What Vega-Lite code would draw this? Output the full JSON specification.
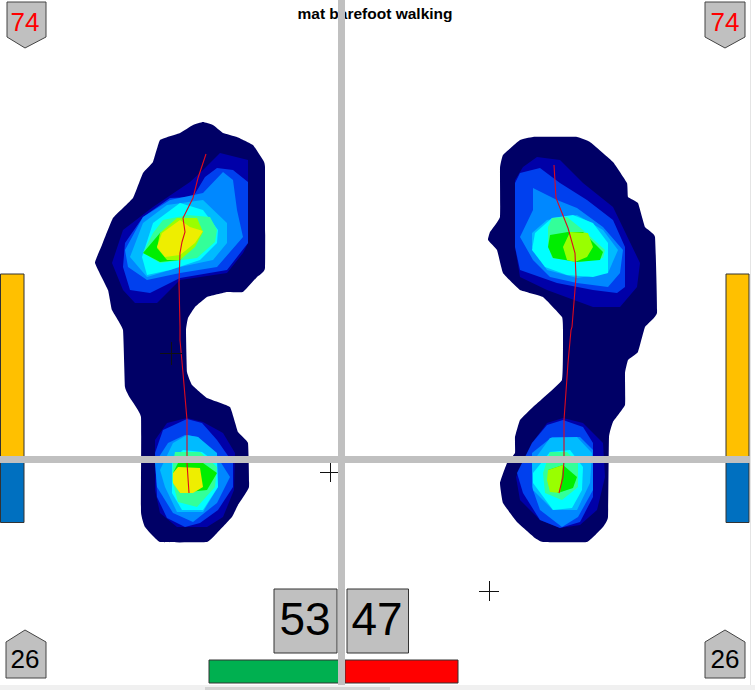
{"$schema":"https://vega.github.io/schema/vega-lite/v6.json","width":755,"height":690,"padding":0,"autosize":{"type":"fit","contains":"padding"},"background":"white","view":{"stroke":null},
"datasets":{
"strips":[{"k":"scroll","x":0,"x2":755,"y":685,"y2":690},{"k":"scroll2","x":205,"x2":390,"y":687,"y2":690},{"k":"edge","x":750,"x2":751,"y":0,"y2":685}],
"outline":[
{"s":"a0","b":"0","x":203,"y":122},{"s":"a0","b":"0","x":213,"y":125},{"s":"a0","b":"0","x":223,"y":133},{"s":"a0","b":"0","x":237,"y":137},{"s":"a0","b":"0","x":253,"y":145},{"s":"a0","b":"0","x":263,"y":160},{"s":"a0","b":"0","x":265,"y":167},{"s":"a0","b":"0","x":265,"y":268},{"s":"a0","b":"0","x":257,"y":277},{"s":"a0","b":"0","x":243,"y":292},{"s":"a0","b":"0","x":227,"y":292},{"s":"a0","b":"0","x":207,"y":297},{"s":"a0","b":"0","x":195,"y":307},{"s":"a0","b":"0","x":188,"y":318},{"s":"a0","b":"0","x":186,"y":330},{"s":"a0","b":"0","x":187,"y":372},{"s":"a0","b":"0","x":192,"y":385},{"s":"a0","b":"0","x":207,"y":398},{"s":"a0","b":"0","x":230,"y":407},{"s":"a0","b":"0","x":238,"y":432},{"s":"a0","b":"0","x":248,"y":443},{"s":"a0","b":"0","x":249,"y":487},{"s":"a0","b":"0","x":238,"y":505},{"s":"a0","b":"0","x":232,"y":517},{"s":"a0","b":"0","x":217,"y":533},{"s":"a0","b":"0","x":207,"y":542},{"s":"a0","b":"0","x":160,"y":542},{"s":"a0","b":"0","x":145,"y":527},{"s":"a0","b":"0","x":141,"y":512},{"s":"a0","b":"0","x":141,"y":417},{"s":"a0","b":"0","x":130,"y":398},{"s":"a0","b":"0","x":125,"y":387},{"s":"a0","b":"0","x":123,"y":330},{"s":"a0","b":"0","x":112,"y":310},{"s":"a0","b":"0","x":108,"y":290},{"s":"a0","b":"0","x":95,"y":263},{"s":"a0","b":"0","x":102,"y":245},{"s":"a0","b":"0","x":113,"y":218},{"s":"a0","b":"0","x":133,"y":198},{"s":"a0","b":"0","x":143,"y":173},{"s":"a0","b":"0","x":153,"y":162},{"s":"a0","b":"0","x":160,"y":140},{"s":"a0","b":"0","x":180,"y":133},{"s":"a0","b":"0","x":193,"y":125},
{"s":"b0","b":"0","x":533,"y":137},{"s":"b0","b":"0","x":577,"y":137},{"s":"b0","b":"0","x":590,"y":142},{"s":"b0","b":"0","x":613,"y":162},{"s":"b0","b":"0","x":627,"y":183},{"s":"b0","b":"0","x":628,"y":197},{"s":"b0","b":"0","x":638,"y":203},{"s":"b0","b":"0","x":645,"y":227},{"s":"b0","b":"0","x":655,"y":237},{"s":"b0","b":"0","x":657,"y":313},{"s":"b0","b":"0","x":645,"y":327},{"s":"b0","b":"0","x":638,"y":352},{"s":"b0","b":"0","x":628,"y":360},{"s":"b0","b":"0","x":625,"y":373},{"s":"b0","b":"0","x":625,"y":405},{"s":"b0","b":"0","x":613,"y":422},{"s":"b0","b":"0","x":609,"y":437},{"s":"b0","b":"0","x":608,"y":517},{"s":"b0","b":"0","x":603,"y":527},{"s":"b0","b":"0","x":587,"y":542},{"s":"b0","b":"0","x":543,"y":542},{"s":"b0","b":"0","x":535,"y":538},{"s":"b0","b":"0","x":517,"y":522},{"s":"b0","b":"0","x":503,"y":503},{"s":"b0","b":"0","x":500,"y":483},{"s":"b0","b":"0","x":507,"y":463},{"s":"b0","b":"0","x":515,"y":453},{"s":"b0","b":"0","x":515,"y":437},{"s":"b0","b":"0","x":520,"y":420},{"s":"b0","b":"0","x":533,"y":407},{"s":"b0","b":"0","x":562,"y":380},{"s":"b0","b":"0","x":563,"y":330},{"s":"b0","b":"0","x":562,"y":317},{"s":"b0","b":"0","x":543,"y":297},{"s":"b0","b":"0","x":520,"y":290},{"s":"b0","b":"0","x":503,"y":273},{"s":"b0","b":"0","x":497,"y":250},{"s":"b0","b":"0","x":488,"y":240},{"s":"b0","b":"0","x":490,"y":232},{"s":"b0","b":"0","x":500,"y":217},{"s":"b0","b":"0","x":500,"y":168},{"s":"b0","b":"0","x":503,"y":155},{"s":"b0","b":"0","x":520,"y":140}
],
"feet":[
{"s":"a1","b":"1","x":220,"y":153},{"s":"a1","b":"1","x":248,"y":160},{"s":"a1","b":"1","x":248,"y":243},{"s":"a1","b":"1","x":243,"y":253},{"s":"a1","b":"1","x":227,"y":273},{"s":"a1","b":"1","x":180,"y":280},{"s":"a1","b":"1","x":157,"y":303},{"s":"a1","b":"1","x":135,"y":303},{"s":"a1","b":"1","x":123,"y":290},{"s":"a1","b":"1","x":112,"y":263},{"s":"a1","b":"1","x":123,"y":230},{"s":"a1","b":"1","x":153,"y":207},{"s":"a1","b":"1","x":190,"y":182},{"s":"a1","b":"1","x":203,"y":170},
{"s":"c1","b":"1","x":187,"y":418},{"s":"c1","b":"1","x":203,"y":422},{"s":"c1","b":"1","x":223,"y":433},{"s":"c1","b":"1","x":235,"y":453},{"s":"c1","b":"1","x":234,"y":490},{"s":"c1","b":"1","x":223,"y":517},{"s":"c1","b":"1","x":207,"y":527},{"s":"c1","b":"1","x":177,"y":527},{"s":"c1","b":"1","x":160,"y":513},{"s":"c1","b":"1","x":155,"y":490},{"s":"c1","b":"1","x":155,"y":440},{"s":"c1","b":"1","x":167,"y":423},
{"s":"b1","b":"1","x":537,"y":157},{"s":"b1","b":"1","x":560,"y":160},{"s":"b1","b":"1","x":583,"y":183},{"s":"b1","b":"1","x":613,"y":207},{"s":"b1","b":"1","x":640,"y":263},{"s":"b1","b":"1","x":637,"y":287},{"s":"b1","b":"1","x":620,"y":307},{"s":"b1","b":"1","x":593,"y":307},{"s":"b1","b":"1","x":547,"y":290},{"s":"b1","b":"1","x":520,"y":277},{"s":"b1","b":"1","x":515,"y":247},{"s":"b1","b":"1","x":515,"y":180},{"s":"b1","b":"1","x":523,"y":167},
{"s":"d1","b":"1","x":563,"y":418},{"s":"d1","b":"1","x":583,"y":423},{"s":"d1","b":"1","x":603,"y":443},{"s":"d1","b":"1","x":605,"y":477},{"s":"d1","b":"1","x":597,"y":510},{"s":"d1","b":"1","x":580,"y":525},{"s":"d1","b":"1","x":560,"y":528},{"s":"d1","b":"1","x":540,"y":520},{"s":"d1","b":"1","x":520,"y":500},{"s":"d1","b":"1","x":516,"y":477},{"s":"d1","b":"1","x":532,"y":443},{"s":"d1","b":"1","x":547,"y":423},
{"s":"a2","b":"2","x":217,"y":168},{"s":"a2","b":"2","x":233,"y":170},{"s":"a2","b":"2","x":248,"y":182},{"s":"a2","b":"2","x":248,"y":243},{"s":"a2","b":"2","x":227,"y":270},{"s":"a2","b":"2","x":180,"y":278},{"s":"a2","b":"2","x":150,"y":293},{"s":"a2","b":"2","x":130,"y":290},{"s":"a2","b":"2","x":123,"y":267},{"s":"a2","b":"2","x":125,"y":243},{"s":"a2","b":"2","x":143,"y":217},{"s":"a2","b":"2","x":170,"y":198},{"s":"a2","b":"2","x":193,"y":197},{"s":"a2","b":"2","x":205,"y":177},
{"s":"c2","b":"2","x":187,"y":419},{"s":"c2","b":"2","x":202,"y":423},{"s":"c2","b":"2","x":217,"y":440},{"s":"c2","b":"2","x":233,"y":463},{"s":"c2","b":"2","x":233,"y":487},{"s":"c2","b":"2","x":218,"y":510},{"s":"c2","b":"2","x":200,"y":523},{"s":"c2","b":"2","x":185,"y":527},{"s":"c2","b":"2","x":167,"y":518},{"s":"c2","b":"2","x":157,"y":497},{"s":"c2","b":"2","x":155,"y":453},{"s":"c2","b":"2","x":163,"y":430},
{"s":"b2","b":"2","x":520,"y":173},{"s":"b2","b":"2","x":540,"y":168},{"s":"b2","b":"2","x":560,"y":183},{"s":"b2","b":"2","x":587,"y":200},{"s":"b2","b":"2","x":613,"y":220},{"s":"b2","b":"2","x":625,"y":247},{"s":"b2","b":"2","x":625,"y":287},{"s":"b2","b":"2","x":617,"y":293},{"s":"b2","b":"2","x":593,"y":290},{"s":"b2","b":"2","x":557,"y":283},{"s":"b2","b":"2","x":520,"y":270},{"s":"b2","b":"2","x":515,"y":247},{"s":"b2","b":"2","x":515,"y":183},
{"s":"d2","b":"2","x":563,"y":420},{"s":"d2","b":"2","x":583,"y":427},{"s":"d2","b":"2","x":593,"y":443},{"s":"d2","b":"2","x":593,"y":497},{"s":"d2","b":"2","x":580,"y":522},{"s":"d2","b":"2","x":560,"y":528},{"s":"d2","b":"2","x":540,"y":520},{"s":"d2","b":"2","x":523,"y":493},{"s":"d2","b":"2","x":517,"y":473},{"s":"d2","b":"2","x":532,"y":443},{"s":"d2","b":"2","x":547,"y":425},
{"s":"a3","b":"3","x":223,"y":172},{"s":"a3","b":"3","x":233,"y":180},{"s":"a3","b":"3","x":237,"y":210},{"s":"a3","b":"3","x":243,"y":237},{"s":"a3","b":"3","x":217,"y":267},{"s":"a3","b":"3","x":180,"y":273},{"s":"a3","b":"3","x":147,"y":280},{"s":"a3","b":"3","x":128,"y":267},{"s":"a3","b":"3","x":125,"y":250},{"s":"a3","b":"3","x":143,"y":217},{"s":"a3","b":"3","x":170,"y":200},{"s":"a3","b":"3","x":203,"y":193},
{"s":"c3","b":"3","x":185,"y":435},{"s":"c3","b":"3","x":198,"y":437},{"s":"c3","b":"3","x":218,"y":458},{"s":"c3","b":"3","x":230,"y":477},{"s":"c3","b":"3","x":217,"y":503},{"s":"c3","b":"3","x":193,"y":522},{"s":"c3","b":"3","x":173,"y":513},{"s":"c3","b":"3","x":157,"y":487},{"s":"c3","b":"3","x":155,"y":463},{"s":"c3","b":"3","x":168,"y":443},
{"s":"b3","b":"3","x":533,"y":188},{"s":"b3","b":"3","x":557,"y":200},{"s":"b3","b":"3","x":577,"y":208},{"s":"b3","b":"3","x":603,"y":227},{"s":"b3","b":"3","x":623,"y":250},{"s":"b3","b":"3","x":620,"y":273},{"s":"b3","b":"3","x":608,"y":287},{"s":"b3","b":"3","x":577,"y":283},{"s":"b3","b":"3","x":550,"y":277},{"s":"b3","b":"3","x":533,"y":260},{"s":"b3","b":"3","x":520,"y":237},{"s":"b3","b":"3","x":533,"y":210},
{"s":"d3","b":"3","x":552,"y":437},{"s":"d3","b":"3","x":580,"y":437},{"s":"d3","b":"3","x":593,"y":450},{"s":"d3","b":"3","x":593,"y":490},{"s":"d3","b":"3","x":578,"y":517},{"s":"d3","b":"3","x":562,"y":527},{"s":"d3","b":"3","x":540,"y":510},{"s":"d3","b":"3","x":532,"y":487},{"s":"d3","b":"3","x":532,"y":453},
{"s":"a4","b":"4","x":203,"y":200},{"s":"a4","b":"4","x":227,"y":223},{"s":"a4","b":"4","x":227,"y":243},{"s":"a4","b":"4","x":213,"y":260},{"s":"a4","b":"4","x":180,"y":267},{"s":"a4","b":"4","x":147,"y":277},{"s":"a4","b":"4","x":130,"y":257},{"s":"a4","b":"4","x":143,"y":223},{"s":"a4","b":"4","x":167,"y":205},
{"s":"c4","b":"4","x":187,"y":435},{"s":"c4","b":"4","x":198,"y":437},{"s":"c4","b":"4","x":217,"y":453},{"s":"c4","b":"4","x":218,"y":487},{"s":"c4","b":"4","x":203,"y":512},{"s":"c4","b":"4","x":177,"y":512},{"s":"c4","b":"4","x":165,"y":487},{"s":"c4","b":"4","x":160,"y":470},{"s":"c4","b":"4","x":173,"y":443},
{"s":"b4","b":"4","x":547,"y":220},{"s":"b4","b":"4","x":577,"y":215},{"s":"b4","b":"4","x":603,"y":230},{"s":"b4","b":"4","x":618,"y":250},{"s":"b4","b":"4","x":608,"y":273},{"s":"b4","b":"4","x":577,"y":278},{"s":"b4","b":"4","x":547,"y":270},{"s":"b4","b":"4","x":532,"y":247},{"s":"b4","b":"4","x":532,"y":233},
{"s":"d4","b":"4","x":550,"y":438},{"s":"d4","b":"4","x":577,"y":437},{"s":"d4","b":"4","x":592,"y":453},{"s":"d4","b":"4","x":590,"y":483},{"s":"d4","b":"4","x":577,"y":510},{"s":"d4","b":"4","x":553,"y":510},{"s":"d4","b":"4","x":533,"y":490},{"s":"d4","b":"4","x":532,"y":463},
{"s":"a5","b":"5","x":180,"y":203},{"s":"a5","b":"5","x":203,"y":210},{"s":"a5","b":"5","x":218,"y":230},{"s":"a5","b":"5","x":217,"y":243},{"s":"a5","b":"5","x":200,"y":260},{"s":"a5","b":"5","x":170,"y":270},{"s":"a5","b":"5","x":147,"y":275},{"s":"a5","b":"5","x":142,"y":257},{"s":"a5","b":"5","x":153,"y":223},
{"s":"c5","b":"5","x":183,"y":450},{"s":"c5","b":"5","x":202,"y":452},{"s":"c5","b":"5","x":217,"y":463},{"s":"c5","b":"5","x":218,"y":487},{"s":"c5","b":"5","x":203,"y":510},{"s":"c5","b":"5","x":182,"y":510},{"s":"c5","b":"5","x":172,"y":493},{"s":"c5","b":"5","x":172,"y":460},
{"s":"b5","b":"5","x":552,"y":218},{"s":"b5","b":"5","x":573,"y":215},{"s":"b5","b":"5","x":593,"y":223},{"s":"b5","b":"5","x":608,"y":243},{"s":"b5","b":"5","x":608,"y":273},{"s":"b5","b":"5","x":593,"y":277},{"s":"b5","b":"5","x":567,"y":275},{"s":"b5","b":"5","x":545,"y":267},{"s":"b5","b":"5","x":532,"y":250},{"s":"b5","b":"5","x":535,"y":233},
{"s":"d5","b":"5","x":550,"y":452},{"s":"d5","b":"5","x":570,"y":450},{"s":"d5","b":"5","x":583,"y":467},{"s":"d5","b":"5","x":582,"y":490},{"s":"d5","b":"5","x":572,"y":508},{"s":"d5","b":"5","x":553,"y":510},{"s":"d5","b":"5","x":533,"y":483},{"s":"d5","b":"5","x":533,"y":473},
{"s":"a6","b":"6","x":163,"y":220},{"s":"a6","b":"6","x":187,"y":215},{"s":"a6","b":"6","x":210,"y":217},{"s":"a6","b":"6","x":217,"y":230},{"s":"a6","b":"6","x":215,"y":242},{"s":"a6","b":"6","x":197,"y":258},{"s":"a6","b":"6","x":160,"y":263},{"s":"a6","b":"6","x":143,"y":253},{"s":"a6","b":"6","x":153,"y":233},
{"s":"c6","b":"6","x":175,"y":452},{"s":"c6","b":"6","x":200,"y":452},{"s":"c6","b":"6","x":217,"y":467},{"s":"c6","b":"6","x":215,"y":487},{"s":"c6","b":"6","x":197,"y":507},{"s":"c6","b":"6","x":178,"y":502},{"s":"c6","b":"6","x":172,"y":480},{"s":"c6","b":"6","x":173,"y":463},
{"s":"b6","b":"6","x":552,"y":218},{"s":"b6","b":"6","x":567,"y":217},{"s":"b6","b":"6","x":583,"y":230},{"s":"b6","b":"6","x":605,"y":250},{"s":"b6","b":"6","x":603,"y":258},{"s":"b6","b":"6","x":580,"y":262},{"s":"b6","b":"6","x":552,"y":258},{"s":"b6","b":"6","x":548,"y":243},{"s":"b6","b":"6","x":548,"y":227},
{"s":"d6","b":"6","x":550,"y":452},{"s":"d6","b":"6","x":567,"y":452},{"s":"d6","b":"6","x":578,"y":463},{"s":"d6","b":"6","x":578,"y":487},{"s":"d6","b":"6","x":562,"y":500},{"s":"d6","b":"6","x":545,"y":493},{"s":"d6","b":"6","x":543,"y":473},
{"s":"a7","b":"7","x":143,"y":253},{"s":"a7","b":"7","x":160,"y":233},{"s":"a7","b":"7","x":180,"y":223},{"s":"a7","b":"7","x":193,"y":243},{"s":"a7","b":"7","x":180,"y":260},{"s":"a7","b":"7","x":160,"y":262},
{"s":"c7","b":"7","x":173,"y":473},{"s":"c7","b":"7","x":178,"y":463},{"s":"c7","b":"7","x":203,"y":463},{"s":"c7","b":"7","x":217,"y":473},{"s":"c7","b":"7","x":207,"y":490},{"s":"c7","b":"7","x":180,"y":493},
{"s":"b7","b":"7","x":550,"y":235},{"s":"b7","b":"7","x":568,"y":232},{"s":"b7","b":"7","x":583,"y":232},{"s":"b7","b":"7","x":603,"y":252},{"s":"b7","b":"7","x":600,"y":260},{"s":"b7","b":"7","x":577,"y":262},{"s":"b7","b":"7","x":553,"y":258},{"s":"b7","b":"7","x":548,"y":247},
{"s":"d7","b":"7","x":548,"y":470},{"s":"d7","b":"7","x":563,"y":465},{"s":"d7","b":"7","x":577,"y":477},{"s":"d7","b":"7","x":573,"y":488},{"s":"d7","b":"7","x":558,"y":493},{"s":"d7","b":"7","x":550,"y":487},
{"s":"a8","b":"8","x":177,"y":218},{"s":"a8","b":"8","x":197,"y":218},{"s":"a8","b":"8","x":203,"y":232},{"s":"a8","b":"8","x":195,"y":247},{"s":"a8","b":"8","x":180,"y":260},{"s":"a8","b":"8","x":167,"y":260},{"s":"a8","b":"8","x":157,"y":248},{"s":"a8","b":"8","x":160,"y":233},
{"s":"b8","b":"8","x":570,"y":232},{"s":"b8","b":"8","x":588,"y":233},{"s":"b8","b":"8","x":593,"y":247},{"s":"b8","b":"8","x":587,"y":257},{"s":"b8","b":"8","x":575,"y":262},{"s":"b8","b":"8","x":567,"y":260},{"s":"b8","b":"8","x":563,"y":247},
{"s":"d8","b":"8","x":548,"y":470},{"s":"d8","b":"8","x":563,"y":465},{"s":"d8","b":"8","x":560,"y":493},{"s":"d8","b":"8","x":550,"y":492},{"s":"d8","b":"8","x":547,"y":480},
{"s":"a9","b":"9","x":180,"y":220},{"s":"a9","b":"9","x":190,"y":227},{"s":"a9","b":"9","x":203,"y":231},{"s":"a9","b":"9","x":195,"y":243},{"s":"a9","b":"9","x":180,"y":255},{"s":"a9","b":"9","x":165,"y":257},{"s":"a9","b":"9","x":157,"y":247},{"s":"a9","b":"9","x":162,"y":233},
{"s":"c9","b":"9","x":178,"y":467},{"s":"c9","b":"9","x":200,"y":468},{"s":"c9","b":"9","x":203,"y":487},{"s":"c9","b":"9","x":193,"y":493},{"s":"c9","b":"9","x":180,"y":493},{"s":"c9","b":"9","x":173,"y":483},{"s":"c9","b":"9","x":173,"y":473}
],
"paths":[
{"s":"L","x":206,"y":154},{"s":"L","x":198,"y":178},{"s":"L","x":193,"y":198},{"s":"L","x":183,"y":218},{"s":"L","x":185,"y":232},{"s":"L","x":182,"y":242},{"s":"L","x":180,"y":253},{"s":"L","x":179,"y":283},{"s":"L","x":180,"y":327},{"s":"L","x":180,"y":340},{"s":"L","x":183,"y":373},{"s":"L","x":187,"y":420},{"s":"L","x":187,"y":463},{"s":"L","x":189,"y":493},
{"s":"R","x":554,"y":165},{"s":"R","x":556,"y":198},{"s":"R","x":568,"y":228},{"s":"R","x":575,"y":253},{"s":"R","x":576,"y":277},{"s":"R","x":572,"y":327},{"s":"R","x":571,"y":330},{"s":"R","x":568,"y":363},{"s":"R","x":564,"y":420},{"s":"R","x":564,"y":460},{"s":"R","x":563,"y":477},{"s":"R","x":559,"y":493}
],
"crosses":[
{"x":160,"x2":182,"y":353.5,"y2":353.5},{"x":171.5,"x2":171.5,"y":342,"y2":365},
{"x":320,"x2":340,"y":472.5,"y2":472.5},{"x":330.5,"x2":330.5,"y":462,"y2":482},
{"x":479,"x2":499,"y":591.5,"y2":591.5},{"x":489.5,"x2":489.5,"y":581,"y2":601}
],
"bars":[
{"k":"orange","x":0.5,"x2":24,"y":274,"y2":457},{"k":"blue","x":0.5,"x2":24,"y":462,"y2":522.5},
{"k":"orange","x":726,"x2":749,"y":274,"y2":457},{"k":"blue","x":726,"x2":749,"y":462,"y2":522.5},
{"k":"box","x":274,"x2":337,"y":589,"y2":653},{"k":"box","x":347,"x2":408.5,"y":589,"y2":653},
{"k":"green","x":209,"x2":339,"y":660,"y2":683},{"k":"redbar","x":345,"x2":458,"y":660,"y2":683}
],
"grey":[{"k":"grey","x":338,"x2":345,"y":0,"y2":685},{"k":"grey","x":0,"x2":750,"y":456,"y2":463}],
"badges":[
{"s":"tl","x":7,"y":2},{"s":"tl","x":46,"y":2},{"s":"tl","x":46,"y":37},{"s":"tl","x":25,"y":48},{"s":"tl","x":7,"y":37},{"s":"tl","x":7,"y":2},
{"s":"tr","x":705,"y":2},{"s":"tr","x":745,"y":2},{"s":"tr","x":745,"y":37},{"s":"tr","x":725,"y":48},{"s":"tr","x":705,"y":37},{"s":"tr","x":705,"y":2},
{"s":"bl","x":25,"y":630},{"s":"bl","x":46,"y":642},{"s":"bl","x":46,"y":678},{"s":"bl","x":6,"y":678},{"s":"bl","x":6,"y":642},{"s":"bl","x":25,"y":630},
{"s":"br","x":725,"y":630},{"s":"br","x":745,"y":642},{"s":"br","x":745,"y":678},{"s":"br","x":705,"y":678},{"s":"br","x":705,"y":642},{"s":"br","x":725,"y":630}
],
"badgeText":[{"t":"74","k":"red","x":25,"y":23},{"t":"74","k":"red","x":725,"y":23},{"t":"26","k":"black","x":25,"y":660},{"t":"26","k":"black","x":725,"y":660}],
"boxText":[{"t":"53","x":305,"y":621},{"t":"47","x":377,"y":621}],
"title":[{"t":"mat barefoot walking","x":375,"y":14}]
},
"layer":[
{"data":{"name":"strips"},"mark":{"type":"rect"},"encoding":{"x":{"field":"x","type":"quantitative","scale":{"domain":[0,755],"nice":false,"zero":false},"axis":null},"x2":{"field":"x2"},"y":{"field":"y","type":"quantitative","scale":{"domain":[690,0],"nice":false,"zero":false},"axis":null},"y2":{"field":"y2"},"color":{"field":"k","type":"nominal","legend":null,"scale":{"domain":["scroll","scroll2","edge"],"range":["#f0f0f0","#d4d4d4","#e4e4e4"]}}}},
{"data":{"name":"outline"},"mark":{"type":"line","order":false,"fill":"#000066","strokeWidth":0,"interpolate":"cardinal-closed","tension":0.75},"encoding":{"x":{"field":"x","type":"quantitative"},"y":{"field":"y","type":"quantitative"},"detail":{"field":"s"}}},
{"data":{"name":"feet"},"mark":{"type":"line","filled":true,"order":false,"strokeWidth":0,"interpolate":"linear"},"encoding":{"x":{"field":"x","type":"quantitative"},"y":{"field":"y","type":"quantitative"},"detail":{"field":"s"},"fill":{"field":"b","type":"nominal","legend":null,"scale":{"domain":["1","2","3","4","5","6","7","8","9"],"range":["#0000a8","#0040ee","#0088ff","#00bbff","#00ffff","#33ff99","#00ee00","#99ff00","#eeee00"]}}}},
{"data":{"name":"paths"},"mark":{"type":"line","order":false,"stroke":"#dd0a1e","strokeWidth":1.1},"encoding":{"x":{"field":"x","type":"quantitative"},"y":{"field":"y","type":"quantitative"},"detail":{"field":"s"}}},
{"data":{"name":"crosses"},"mark":{"type":"rule","stroke":"#111111","strokeWidth":1},"encoding":{"x":{"field":"x","type":"quantitative"},"x2":{"field":"x2"},"y":{"field":"y","type":"quantitative"},"y2":{"field":"y2"}}},
{"data":{"name":"title"},"mark":{"type":"text","font":"Liberation Sans","fontWeight":"bold","fontSize":15.5,"fill":"#000000","align":"center","baseline":"middle"},"encoding":{"x":{"field":"x","type":"quantitative"},"y":{"field":"y","type":"quantitative"},"text":{"field":"t"}}},
{"data":{"name":"bars"},"mark":{"type":"rect","stroke":"#333333","strokeWidth":1},"encoding":{"x":{"field":"x","type":"quantitative"},"x2":{"field":"x2"},"y":{"field":"y","type":"quantitative"},"y2":{"field":"y2"},"fill":{"field":"k","type":"nominal","legend":null,"scale":{"domain":["orange","blue","box","green","redbar"],"range":["#ffc000","#0070c0","#c0c0c0","#00b050","#ff0000"]}}}},
{"data":{"name":"grey"},"mark":{"type":"rect","fill":"#c0c0c0"},"encoding":{"x":{"field":"x","type":"quantitative"},"x2":{"field":"x2"},"y":{"field":"y","type":"quantitative"},"y2":{"field":"y2"}}},
{"data":{"name":"badges"},"mark":{"type":"line","order":false,"fill":"#c0c0c0","stroke":"#444444","strokeWidth":1},"encoding":{"x":{"field":"x","type":"quantitative"},"y":{"field":"y","type":"quantitative"},"detail":{"field":"s"}}},
{"data":{"name":"badgeText"},"mark":{"type":"text","font":"Liberation Sans","fontSize":26,"align":"center","baseline":"middle"},"encoding":{"x":{"field":"x","type":"quantitative"},"y":{"field":"y","type":"quantitative"},"text":{"field":"t"},"color":{"field":"k","type":"nominal","legend":null,"scale":{"domain":["red","black"],"range":["#ff0000","#000000"]}}}},
{"data":{"name":"boxText"},"mark":{"type":"text","font":"Liberation Sans","fontSize":46,"fill":"#000000","align":"center","baseline":"middle"},"encoding":{"x":{"field":"x","type":"quantitative"},"y":{"field":"y","type":"quantitative"},"text":{"field":"t"}}}
],
"resolve":{"scale":{"fill":"independent","color":"independent"}}
}
